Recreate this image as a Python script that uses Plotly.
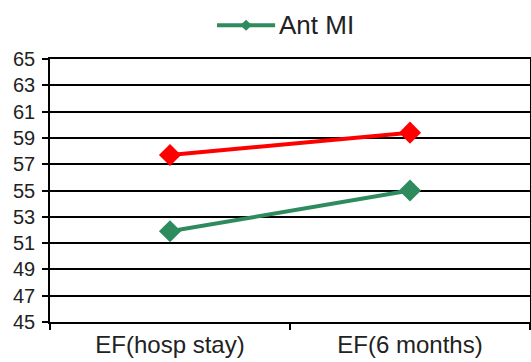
import plotly.graph_objects as go

# Ejection fraction at two time points
categories = ["EF(hosp stay)", "EF(6 months)"]
ant_mi = [51.9, 55.0]
other_mi = [57.7, 59.4]
y_ticks = list(range(45, 66, 2))

GREEN = "#2e8b5e"
RED = "#ff0000"

fig = go.Figure()
fig.add_trace(go.Scatter(
    x=categories, y=other_mi, mode="lines+markers", name="Inf MI",
    showlegend=False,
    line=dict(color=RED, width=4),
    marker=dict(symbol="diamond", size=17, color=RED),
))
fig.add_trace(go.Scatter(
    x=categories, y=ant_mi, mode="lines+markers", name="Ant MI",
    showlegend=False,
    line=dict(color=GREEN, width=4),
    marker=dict(symbol="diamond", size=17, color=GREEN),
))

# Legend key drawn above the plot: long line with a small diamond, then the label
key_y = 1.128
fig.add_shape(type="line", xref="paper", yref="paper",
              x0=0.348, x1=0.469, y0=key_y, y1=key_y,
              line=dict(color=GREEN, width=4))
cx, hx, hy = 0.4085, 0.012, 0.021
fig.add_shape(type="path", xref="paper", yref="paper",
              path=f"M {cx-hx} {key_y} L {cx} {key_y+hy} L {cx+hx} {key_y} L {cx} {key_y-hy} Z",
              fillcolor=GREEN, line=dict(color=GREEN, width=0))
fig.add_annotation(text="Ant MI", xref="paper", yref="paper",
                   x=0.472, y=key_y, xanchor="left", yanchor="middle",
                   showarrow=False, font=dict(size=26, color="#222"))

fig.update_layout(
    width=531, height=362,
    margin=dict(l=50, r=1, t=59, b=40, autoexpand=False),
    paper_bgcolor="white", plot_bgcolor="white",
    font=dict(family="Liberation Sans, Arial, sans-serif", color="#222"),
    showlegend=False,
)

fig.update_xaxes(
    type="category", tickson="boundaries",
    ticks="outside", ticklen=6, tickcolor="black", tickwidth=1.5,
    showline=True, linecolor="black", linewidth=1.5, mirror=True,
    showgrid=False, tickfont=dict(size=24, color="#222"),
    range=[-0.5, 1.5], automargin=False,
)
fig.update_yaxes(
    range=[45, 65], tickvals=y_ticks,
    ticks="outside", ticklen=6, tickcolor="black", tickwidth=1.5,
    showline=True, linecolor="black", linewidth=1.5, mirror=True,
    showgrid=True, gridcolor="black", gridwidth=1.5,
    zeroline=False, tickfont=dict(size=20, color="#222"),
    ticklabelstandoff=3, automargin=False,
)

fig.write_html("out.html")
